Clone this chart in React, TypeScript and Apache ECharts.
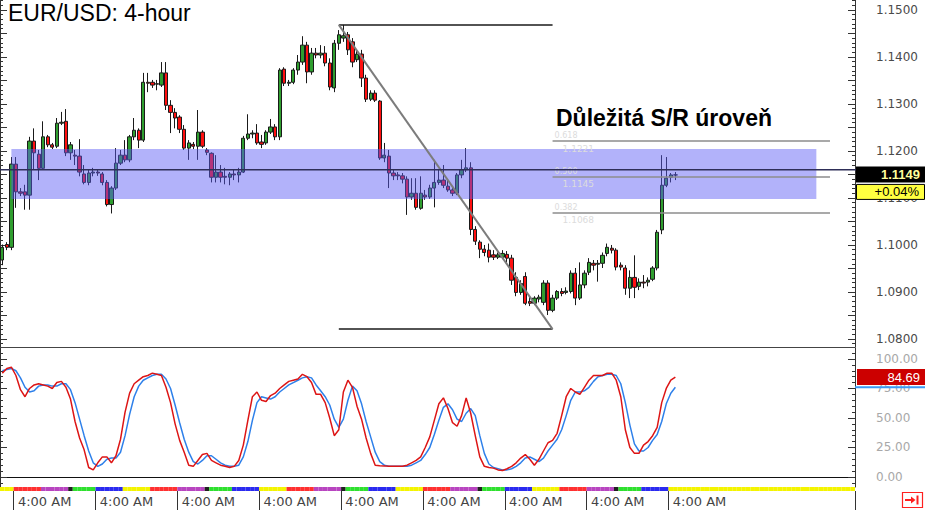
import React, { useEffect, useRef } from 'react';
import * as echarts from 'echarts';

// ---------- data ----------
const SLOT_COUNT = 188;
const LAST_LABEL_SLOT = 150;
const TITLE = 'EUR/USD: 4-hour';
const SR_TEXT = 'Důležitá S/R úroveň';
const TIME_LABEL = '4:00 AM';
const CHANGE_TEXT = '+0.04%';

// [open, close, low, high]
const CANDLES: number[][] = [
  [1.0968, 1.0995, 1.0957, 1.1001], [1.1001, 1.0995, 1.0989, 1.1006], [1.0995, 1.1172, 1.0989, 1.1187],
  [1.1172, 1.1113, 1.1079, 1.1187], [1.1113, 1.1110, 1.1104, 1.1121], [1.1113, 1.1106, 1.1075, 1.1128],
  [1.1106, 1.1221, 1.1075, 1.1230], [1.1221, 1.1196, 1.1160, 1.1248], [1.1193, 1.1163, 1.1138, 1.1202],
  [1.1163, 1.1230, 1.1160, 1.1263], [1.1230, 1.1213, 1.1208, 1.1234], [1.1213, 1.1208, 1.1204, 1.1217],
  [1.1210, 1.1259, 1.1206, 1.1270], [1.1259, 1.1261, 1.1255, 1.1283], [1.1263, 1.1196, 1.1189, 1.1289],
  [1.1196, 1.1213, 1.1181, 1.1219], [1.1191, 1.1189, 1.1170, 1.1202], [1.1189, 1.1155, 1.1146, 1.1225],
  [1.1151, 1.1133, 1.1129, 1.1170], [1.1133, 1.1153, 1.1127, 1.1160], [1.1153, 1.1155, 1.1146, 1.1164],
  [1.1155, 1.1153, 1.1147, 1.1160], [1.1151, 1.1133, 1.1127, 1.1155], [1.1133, 1.1086, 1.1082, 1.1138],
  [1.1086, 1.1121, 1.1067, 1.1125], [1.1121, 1.1174, 1.1117, 1.1206], [1.1174, 1.1191, 1.1170, 1.1202],
  [1.1191, 1.1181, 1.1176, 1.1223], [1.1181, 1.1230, 1.1176, 1.1234], [1.1230, 1.1244, 1.1223, 1.1270],
  [1.1244, 1.1223, 1.1206, 1.1248], [1.1223, 1.1346, 1.1219, 1.1366], [1.1346, 1.1344, 1.1325, 1.1366],
  [1.1346, 1.1340, 1.1334, 1.1351], [1.1342, 1.1343, 1.1329, 1.1351], [1.1340, 1.1366, 1.1336, 1.1389],
  [1.1366, 1.1297, 1.1287, 1.1389], [1.1297, 1.1282, 1.1238, 1.1308], [1.1282, 1.1270, 1.1248, 1.1291],
  [1.1272, 1.1246, 1.1238, 1.1276], [1.1246, 1.1206, 1.1202, 1.1255], [1.1206, 1.1217, 1.1181, 1.1223],
  [1.1214, 1.1210, 1.1204, 1.1219], [1.1210, 1.1240, 1.1181, 1.1287], [1.1240, 1.1210, 1.1206, 1.1244],
  [1.1202, 1.1197, 1.1191, 1.1206], [1.1195, 1.1144, 1.1133, 1.1197], [1.1144, 1.1155, 1.1133, 1.1191],
  [1.1155, 1.1144, 1.1133, 1.1170], [1.1146, 1.1144, 1.1129, 1.1164], [1.1144, 1.1151, 1.1127, 1.1155],
  [1.1151, 1.1149, 1.1138, 1.1160], [1.1149, 1.1155, 1.1133, 1.1164], [1.1155, 1.1227, 1.1153, 1.1232],
  [1.1227, 1.1236, 1.1223, 1.1278], [1.1236, 1.1238, 1.1227, 1.1244], [1.1238, 1.1217, 1.1213, 1.1257],
  [1.1219, 1.1214, 1.1206, 1.1234], [1.1217, 1.1240, 1.1213, 1.1244], [1.1240, 1.1251, 1.1236, 1.1268],
  [1.1251, 1.1230, 1.1223, 1.1257], [1.1230, 1.1372, 1.1223, 1.1376], [1.1374, 1.1344, 1.1338, 1.1378],
  [1.1344, 1.1346, 1.1338, 1.1351], [1.1346, 1.1372, 1.1342, 1.1376], [1.1372, 1.1389, 1.1362, 1.1404],
  [1.1389, 1.1425, 1.1383, 1.1444], [1.1425, 1.1368, 1.1344, 1.1432], [1.1368, 1.1408, 1.1362, 1.1419],
  [1.1408, 1.1404, 1.1397, 1.1419], [1.1404, 1.1408, 1.1397, 1.1425], [1.1408, 1.1387, 1.1380, 1.1423],
  [1.1387, 1.1336, 1.1329, 1.1397], [1.1334, 1.1429, 1.1325, 1.1436], [1.1429, 1.1447, 1.1415, 1.1457],
  [1.1440, 1.1445, 1.1432, 1.1468], [1.1447, 1.1415, 1.1404, 1.1453], [1.1432, 1.1389, 1.1378, 1.1440],
  [1.1394, 1.1406, 1.1389, 1.1415], [1.1406, 1.1355, 1.1336, 1.1415], [1.1355, 1.1310, 1.1304, 1.1362],
  [1.1310, 1.1323, 1.1306, 1.1329], [1.1323, 1.1308, 1.1304, 1.1329], [1.1306, 1.1185, 1.1181, 1.1308],
  [1.1185, 1.1191, 1.1176, 1.1217], [1.1189, 1.1153, 1.1121, 1.1202], [1.1153, 1.1147, 1.1138, 1.1160],
  [1.1149, 1.1147, 1.1138, 1.1155], [1.1147, 1.1140, 1.1131, 1.1153], [1.1140, 1.1102, 1.1064, 1.1146],
  [1.1102, 1.1110, 1.1096, 1.1142], [1.1110, 1.1080, 1.1075, 1.1142], [1.1078, 1.1110, 1.1075, 1.1146],
  [1.1106, 1.1102, 1.1096, 1.1117], [1.1102, 1.1121, 1.1098, 1.1128], [1.1121, 1.1133, 1.1080, 1.1181],
  [1.1133, 1.1138, 1.1128, 1.1160], [1.1138, 1.1127, 1.1121, 1.1170], [1.1125, 1.1117, 1.1113, 1.1138],
  [1.1117, 1.1110, 1.1104, 1.1121], [1.1110, 1.1149, 1.1106, 1.1153], [1.1149, 1.1160, 1.1142, 1.1181],
  [1.1160, 1.1164, 1.1155, 1.1206], [1.1164, 1.1033, 1.1021, 1.1176], [1.1033, 1.1008, 1.1000, 1.1040],
  [1.1006, 1.0991, 1.0972, 1.1010], [1.0991, 1.0984, 1.0976, 1.1000], [1.0989, 1.0974, 1.0963, 1.1003],
  [1.0979, 1.0974, 1.0968, 1.0989], [1.0974, 1.0979, 1.0970, 1.0984], [1.0974, 1.0982, 1.0970, 1.0989],
  [1.0980, 1.0972, 1.0963, 1.0987], [1.0972, 1.0925, 1.0915, 1.0979], [1.0931, 1.0899, 1.0891, 1.0942],
  [1.0899, 1.0918, 1.0894, 1.0925], [1.0933, 1.0876, 1.0872, 1.0942], [1.0880, 1.0876, 1.0870, 1.0891],
  [1.0876, 1.0887, 1.0872, 1.0891], [1.0885, 1.0889, 1.0878, 1.0894], [1.0878, 1.0919, 1.0872, 1.0925],
  [1.0919, 1.0861, 1.0851, 1.0925], [1.0861, 1.0887, 1.0857, 1.0894], [1.0887, 1.0901, 1.0883, 1.0904],
  [1.0901, 1.0897, 1.0891, 1.0908], [1.0899, 1.0902, 1.0895, 1.0910], [1.0901, 1.0940, 1.0897, 1.0946],
  [1.0940, 1.0887, 1.0872, 1.0951], [1.0887, 1.0915, 1.0883, 1.0963], [1.0915, 1.0940, 1.0908, 1.0946],
  [1.0942, 1.0963, 1.0936, 1.0972], [1.0961, 1.0957, 1.0946, 1.0968], [1.0959, 1.0961, 1.0922, 1.0968],
  [1.0961, 1.0978, 1.0951, 1.0984], [1.0982, 1.0995, 1.0976, 1.1003], [1.0993, 1.0989, 1.0982, 1.1000],
  [1.0989, 1.0953, 1.0946, 1.0993], [1.0957, 1.0953, 1.0946, 1.0963], [1.0951, 1.0908, 1.0894, 1.0957],
  [1.0908, 1.0931, 1.0887, 1.0946], [1.0931, 1.0910, 1.0887, 1.0978], [1.0912, 1.0921, 1.0904, 1.0929],
  [1.0921, 1.0919, 1.0908, 1.0936], [1.0921, 1.0925, 1.0912, 1.0931], [1.0927, 1.0951, 1.0923, 1.0955],
  [1.0951, 1.1027, 1.0946, 1.1032], [1.1032, 1.1127, 1.1023, 1.1191], [1.1127, 1.1142, 1.1123, 1.1187],
  [1.1144, 1.1149, 1.1133, 1.1153], [1.1149, 1.1149, 1.1138, 1.1155],
];

const STOCH_K = [
  88, 92, 93, 86, 74, 68, 75, 78, 79, 78,
  77, 75, 80, 81, 76, 66, 47, 33, 23, 8,
  6, 12, 17, 17, 12, 18, 32, 55, 71, 79,
  82, 85, 86, 88, 87, 86, 76, 63, 45, 31,
  21, 10, 9, 14, 19, 20, 14, 12, 10, 9,
  8, 9, 14, 27, 48, 68, 72, 65, 64, 69,
  71, 75, 78, 81, 82, 83, 87, 85, 80, 70,
  70, 63, 50, 35, 40, 72, 82, 76, 60, 49,
  33, 20, 10, 9.5, 9.4, 9, 9, 9, 9, 10,
  12, 14, 17, 25, 34, 48, 62, 67, 58, 46,
  43, 52, 67, 54, 35, 17, 9, 8, 7.5, 6,
  5.5, 7, 9, 12, 16, 19, 15, 10, 15, 22,
  29, 31, 37, 52, 68, 75, 72, 70, 76, 82,
  86, 86, 86, 88, 88, 82, 68, 40, 25, 20,
  20, 27, 30, 35, 42, 63, 75, 82, 84.69,
];

const STOCH_D = [
  90, 91, 92, 90, 84, 76, 72, 73, 77, 78,
  78, 77, 77, 79, 79, 74, 63, 49, 35, 22,
  12, 9, 11, 15, 16, 16, 21, 35, 53, 68,
  77, 82, 84, 86, 87, 87, 83, 75, 61, 46,
  32, 21, 13, 11, 14, 18, 18, 15, 12, 10,
  9, 9, 10, 17, 30, 48, 63, 68, 67, 66,
  68, 72, 75, 78, 80, 82, 84, 85, 84, 78,
  73, 68, 61, 49, 42, 49, 65, 77, 73, 62,
  47, 34, 21, 13, 10, 9, 9, 9, 9, 9,
  10, 12, 14, 19, 25, 36, 48, 59, 62, 57,
  49, 47, 54, 58, 52, 35, 20, 11, 8, 7,
  6, 6, 7, 9, 12, 16, 17, 15, 13, 16,
  22, 27, 32, 40, 52, 65, 72, 72, 73, 76,
  81, 85, 86, 87, 87, 86, 79, 63, 44, 28,
  22, 22, 25, 31, 36, 47, 62, 71, 76,
];

const PRICE_LABELS = [1.08, 1.09, 1.1, 1.11, 1.12, 1.13, 1.14, 1.15];
const STOCH_LABELS = [0, 25, 50, 75, 100];
const SR_ZONE = [1.1098, 1.1204];
const SR_ZONE_SLOTS = [2, 179];
const CURRENT_LINE = 1.116;
const SWING_PRICES = [1.1468, 1.0821];
const SWING_SLOTS = [74, 121];
const FIB_RATIOS = ['0.382', '0.500', '0.618'];
const FIB_PRICES = [1.1068, 1.1145, 1.1221];
const FIB_END_SLOT = 182;
const DAY_STRIP: [string, number][] = [
  ['Y', 3], ['R', 6], ['M', 6], ['K', 1], ['G', 5], ['B', 6],
  ['Y', 6], ['R', 6], ['M', 6], ['K', 1], ['G', 5], ['B', 6],
  ['Y', 6], ['R', 6], ['M', 6], ['K', 1], ['G', 5], ['B', 6],
  ['Y', 6], ['R', 6], ['M', 6], ['K', 1], ['G', 5], ['B', 6],
  ['Y', 6], ['R', 6], ['M', 6], ['K', 1], ['G', 5], ['B', 6],
  ['Y', 41],
];
const DAY_COLORS: Record<string, string> = {
  Y: '#f4f400', R: '#ff3030', M: '#b845c0', K: '#202020', G: '#2ee02e', B: '#2a2af0',
};

const Y_MIN = 1.0783;
const Y_MAX = 1.1521;
const S_MIN = -8.5;
const S_MAX = 109.3;

function steps(from: number, to: number, step: number, digits: number): number[] {
  const out: number[] = [];
  const n = Math.round((to - from) / step);
  for (let i = 0; i <= n; i++) out.push(+(from + i * step).toFixed(digits));
  return out;
}

export default function App() {
  const ref = useRef<HTMLDivElement>(null);

  useEffect(() => {
    document.body.style.margin = '0';
    const el = ref.current;
    if (!el) return;
    const chart = echarts.init(el, null, { renderer: 'svg' });

    const slots = Array.from({ length: SLOT_COUNT }, (_, i) => String(i));
    const stripColors: string[] = [];
    DAY_STRIP.forEach(([k, n]) => {
      for (let i = 0; i < n; i++) stripColors.push(DAY_COLORS[k]);
    });

    const priceMid = steps(1.08, 1.15, 0.005, 4);
    const priceMinor = steps(1.079, 1.152, 0.001, 4);
    const stochMinor = steps(-5, 105, 5, 0);

    const labelTick = (i: number) => i % 18 === 3 && i < LAST_LABEL_SLOT;
    const font = '"DejaVu Sans", Verdana, sans-serif';

    const yBase = (grid: number, min: number, max: number) => ({
      gridIndex: grid,
      type: 'value',
      min,
      max,
      splitLine: { show: false },
      axisLine: { show: false, onZero: false, lineStyle: { color: '#333' } },
      axisLabel: { show: false },
    });

    const option: any = {
      animation: false,
      backgroundColor: '#ffffff',
      grid: [
        { left: 0, right: 70, top: 0, height: 347 },
        { left: 0, right: 70, top: 348, height: 139 },
        { left: 0, right: 70, top: 487, height: 4 },
      ],
      xAxis: [
        {
          gridIndex: 0, type: 'category', data: slots, boundaryGap: true,
          axisLine: { show: true, lineStyle: { color: '#444' } },
          axisTick: { show: false }, axisLabel: { show: false }, splitLine: { show: false },
        },
        {
          gridIndex: 1, type: 'category', data: slots, boundaryGap: true,
          axisLine: { show: true, lineStyle: { color: '#111' } },
          axisTick: { show: false }, axisLabel: { show: false }, splitLine: { show: false },
        },
        {
          gridIndex: 2, type: 'category', data: slots, boundaryGap: true,
          axisLine: { show: false },
          axisTick: { show: true, interval: labelTick, length: 19, lineStyle: { color: '#333' } },
          axisLabel: {
            show: true, interval: labelTick, formatter: () => TIME_LABEL, align: 'left',
            margin: 4, fontSize: 13, color: '#444', fontFamily: font, padding: [0, 0, 0, 2],
          },
          splitLine: { show: false },
        },
      ],
      yAxis: [
        {
          ...yBase(0, Y_MIN, Y_MAX), position: 'right',
          axisLine: { show: true, onZero: false, lineStyle: { color: '#333' } },
          axisTick: { show: true, inside: true, length: 7, customValues: priceMid, lineStyle: { color: '#333' } },
          axisLabel: {
            show: true, customValues: PRICE_LABELS, formatter: (v: number) => v.toFixed(4),
            margin: 21, fontSize: 12, color: '#4a4a4a', fontFamily: font,
          },
        },
        {
          ...yBase(0, Y_MIN, Y_MAX), position: 'right',
          axisTick: { show: true, inside: true, length: 3, customValues: priceMinor, lineStyle: { color: '#333' } },
        },
        {
          ...yBase(0, Y_MIN, Y_MAX), position: 'left',
          axisLine: { show: true, onZero: false, lineStyle: { color: '#333' } },
          axisTick: { show: true, inside: true, length: 7, customValues: priceMid, lineStyle: { color: '#333' } },
        },
        {
          ...yBase(0, Y_MIN, Y_MAX), position: 'left',
          axisTick: { show: true, inside: true, length: 3, customValues: priceMinor, lineStyle: { color: '#333' } },
        },
        {
          ...yBase(1, S_MIN, S_MAX), position: 'right',
          axisLine: { show: true, onZero: false, lineStyle: { color: '#333' } },
          axisTick: { show: true, inside: true, length: 7, customValues: STOCH_LABELS, lineStyle: { color: '#333' } },
          axisLabel: {
            show: true, customValues: STOCH_LABELS, formatter: (v: number) => v.toFixed(2),
            margin: 21, fontSize: 12, color: '#a8a8a8', fontFamily: font,
          },
        },
        {
          ...yBase(1, S_MIN, S_MAX), position: 'right',
          axisTick: { show: true, inside: true, length: 3, customValues: stochMinor, lineStyle: { color: '#333' } },
        },
        {
          ...yBase(1, S_MIN, S_MAX), position: 'left',
          axisLine: { show: true, onZero: false, lineStyle: { color: '#333' } },
          axisTick: { show: true, inside: true, length: 7, customValues: STOCH_LABELS, lineStyle: { color: '#333' } },
        },
        {
          ...yBase(1, S_MIN, S_MAX), position: 'left',
          axisTick: { show: true, inside: true, length: 3, customValues: stochMinor, lineStyle: { color: '#333' } },
        },
        { gridIndex: 2, type: 'value', min: 0, max: 1, show: false },
      ],
      series: [
        {
          type: 'candlestick',
          xAxisIndex: 0,
          yAxisIndex: 0,
          data: CANDLES,
          barWidth: 3.8,
          z: 2,
          itemStyle: {
            color: '#2f9e2f', color0: '#ff1010',
            borderColor: '#1a1a1a', borderColor0: '#1a1a1a', borderWidth: 1,
          },
          markArea: {
            silent: true,
            z: 4,
            itemStyle: { color: 'rgba(92, 92, 245, 0.47)' },
            data: [[
              { coord: [SR_ZONE_SLOTS[0], SR_ZONE[1]] },
              { coord: [SR_ZONE_SLOTS[1], SR_ZONE[0]] },
            ]],
          },
          markLine: {
            silent: true,
            z: 5,
            symbol: ['none', 'none'],
            label: { show: false },
            data: [
              [
                { coord: [SWING_SLOTS[0], SWING_PRICES[0]], lineStyle: { color: '#1a1a1a', width: 1.5, type: 'solid' } },
                { coord: [SWING_SLOTS[1], SWING_PRICES[0]] },
              ],
              [
                { coord: [SWING_SLOTS[0], SWING_PRICES[1]], lineStyle: { color: '#1a1a1a', width: 1.5, type: 'solid' } },
                { coord: [SWING_SLOTS[1], SWING_PRICES[1]] },
              ],
              [
                { coord: [SWING_SLOTS[0], SWING_PRICES[0]], lineStyle: { color: '#7c7c7c', width: 2, type: 'solid' } },
                { coord: [SWING_SLOTS[1], SWING_PRICES[1]] },
              ],
              ...FIB_PRICES.map((p) => [
                { coord: [SWING_SLOTS[1], p], lineStyle: { color: '#8c8c8c', width: 1.5, type: 'solid' } },
                { coord: [FIB_END_SLOT, p] },
              ]),
            ],
          },
        },
        {
          type: 'line', xAxisIndex: 1, yAxisIndex: 4, data: STOCH_D, showSymbol: false, z: 2,
          lineStyle: { color: '#2e80ea', width: 1.5 }, itemStyle: { color: '#2e80ea' },
        },
        {
          type: 'line', xAxisIndex: 1, yAxisIndex: 4, data: STOCH_K, showSymbol: false, z: 3,
          lineStyle: { color: '#dd1515', width: 1.5 }, itemStyle: { color: '#dd1515' },
        },
        {
          type: 'bar', xAxisIndex: 2, yAxisIndex: 8, barCategoryGap: '0%',
          data: stripColors.map((c) => ({ value: 1, itemStyle: { color: c } })),
        },
      ],
    };

    chart.setOption(option);

    const lastClose = CANDLES[CANDLES.length - 1][1];
    const kLast = STOCH_K[STOCH_K.length - 1];
    const dLast = STOCH_D[STOCH_D.length - 1];
    const yClose = chart.convertToPixel({ yAxisIndex: 0 } as any, lastClose) as number;
    const yLine = chart.convertToPixel({ yAxisIndex: 0 } as any, CURRENT_LINE) as number;
    const yK = chart.convertToPixel({ yAxisIndex: 4 } as any, kLast) as number;
    const yD = chart.convertToPixel({ yAxisIndex: 4 } as any, dLast) as number;
    const xFib = chart.convertToPixel({ xAxisIndex: 0 } as any, SWING_SLOTS[1]) as number;

    const fibTexts: any[] = [];
    FIB_PRICES.forEach((p, i) => {
      const y = chart.convertToPixel({ yAxisIndex: 0 } as any, p) as number;
      fibTexts.push({
        type: 'text', x: xFib + 2, y: y - 1.5, z: 20,
        style: { text: FIB_RATIOS[i], fill: '#dcdcdc', font: `8px ${font}`, verticalAlign: 'bottom' },
      });
      fibTexts.push({
        type: 'text', x: xFib + 10, y: y + 3, z: 20,
        style: { text: p.toFixed(4), fill: '#dcdcdc', font: `9px ${font}`, verticalAlign: 'top' },
      });
    });

    chart.setOption({
      graphic: [
        {
          type: 'line', z: 25, shape: { x1: 0, y1: yLine, x2: 858, y2: yLine },
          style: { stroke: '#2e2e58', lineWidth: 1.5 },
        },
        {
          type: 'text', left: 8, top: 1, z: 30,
          style: { text: TITLE, fill: '#000', font: '23px "Liberation Sans", Arial, sans-serif' },
        },
        {
          type: 'text', x: 556, y: 129, z: 30,
          style: {
            text: SR_TEXT, fill: '#000', verticalAlign: 'bottom',
            font: 'bold 23px "Liberation Sans", Arial, sans-serif',
          },
        },
        ...fibTexts,
        {
          type: 'rect', z: 30, shape: { x: 856, y: yClose - 8.5, width: 69, height: 16 },
          style: { fill: '#000' },
        },
        {
          type: 'text', z: 31, x: 920, y: yClose,
          style: {
            text: lastClose.toFixed(4), fill: '#ffff9c', align: 'right', verticalAlign: 'middle',
            font: 'bold 13px "Liberation Sans", Arial, sans-serif',
          },
        },
        {
          type: 'rect', z: 30, shape: { x: 856.5, y: yClose + 9.5, width: 68, height: 15 },
          style: { fill: '#ffff40', stroke: '#000', lineWidth: 1 },
        },
        {
          type: 'text', z: 31, x: 919, y: yClose + 17,
          style: {
            text: CHANGE_TEXT, fill: '#000', align: 'right', verticalAlign: 'middle',
            font: '13px "Liberation Sans", Arial, sans-serif',
          },
        },
        {
          type: 'line', z: 29, shape: { x1: 855, y1: yD, x2: 925, y2: yD },
          style: { stroke: '#3a9af5', lineWidth: 2 },
        },
        {
          type: 'rect', z: 30, shape: { x: 857, y: yK - 8, width: 68, height: 16 },
          style: { fill: '#cc0000' },
        },
        {
          type: 'text', z: 31, x: 920, y: yK,
          style: {
            text: kLast.toFixed(2), fill: '#ffffff', align: 'right', verticalAlign: 'middle',
            font: '13px "Liberation Sans", Arial, sans-serif',
          },
        },
        {
          type: 'rect', z: 30, shape: { x: 902.5, y: 492.5, width: 20, height: 15 },
          style: { fill: '#fff', stroke: '#ff2020', lineWidth: 1.2 },
        },
        {
          type: 'line', z: 31, shape: { x1: 905, y1: 500, x2: 912, y2: 500 },
          style: { stroke: '#ff2020', lineWidth: 2 },
        },
        {
          type: 'polygon', z: 31, shape: { points: [[911, 496.5], [915.5, 500], [911, 503.5]] },
          style: { fill: '#ff2020' },
        },
        {
          type: 'line', z: 31, shape: { x1: 917.5, y1: 495.5, x2: 917.5, y2: 504.5 },
          style: { stroke: '#ff2020', lineWidth: 2 },
        },
      ],
    });

    return () => {
      chart.dispose();
    };
  }, []);

  return (
    <div
      ref={ref}
      style={{ position: 'absolute', left: 0, top: 0, width: 925, height: 510, background: '#fff' }}
    />
  );
}
